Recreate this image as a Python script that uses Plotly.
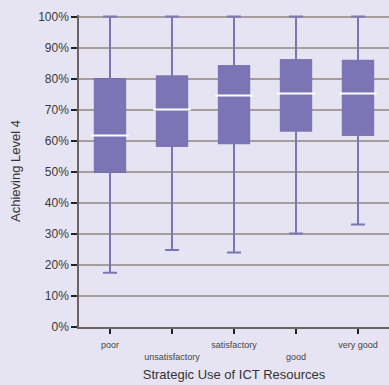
import plotly.graph_objects as go

categories = ["poor", "unsatisfactory", "satisfactory", "good", "very good"]
tick_labels_upper = ["poor", "", "satisfactory", "", "very good"]
tick_labels_lower = ["", "unsatisfactory", "", "good", ""]
lower = [0.175, 0.248, 0.240, 0.301, 0.330]
q1 = [0.500, 0.584, 0.592, 0.633, 0.619]
median = [0.617, 0.701, 0.746, 0.752, 0.752]
q3 = [0.798, 0.807, 0.840, 0.859, 0.858]
upper = [1.0, 1.0, 1.0, 1.0, 1.0]

PURPLE = "#7B75B5"
BG = "#E6E4F2"

fig = go.Figure()
fig.add_trace(go.Box(
    x=categories, q1=q1, median=median, q3=q3,
    lowerfence=lower, upperfence=upper,
    fillcolor=PURPLE, line=dict(color=PURPLE, width=2),
    width=0.49, whiskerwidth=0.46, boxpoints=False, hoverinfo="skip",
))
fig.add_trace(go.Bar(
    x=categories, y=[b - a for a, b in zip(q1, q3)], base=q1,
    width=0.49, marker=dict(color=PURPLE, line=dict(color="#2B2838", width=1.5)),
    hoverinfo="skip",
))
fig.add_trace(go.Scatter(
    x=categories, y=median, mode="markers",
    marker=dict(symbol="line-ew-open", size=27, color="white", line=dict(color="white", width=2)),
    hoverinfo="skip",
))
# invisible trace to carry the second (lower-row) category axis
fig.add_trace(go.Scatter(
    x=categories, y=median, xaxis="x2", mode="markers",
    marker=dict(opacity=0), hoverinfo="skip",
))

fig.update_layout(
    width=389, height=385,
    margin=dict(l=79, r=0, t=15, b=58),
    paper_bgcolor=BG, plot_bgcolor=BG,
    showlegend=False, barmode="overlay", boxmode="overlay",
    font=dict(family="Liberation Sans, Arial, sans-serif", color="#3A3A3A"),
    xaxis=dict(
        type="category", range=[-0.5, 4.5], automargin=False,
        categoryorder="array", categoryarray=categories,
        tickmode="array", tickvals=categories, ticktext=tick_labels_upper,
        tickfont=dict(size=9, color="#444"), ticklabelstandoff=3,
        ticks="outside", ticklen=5, tickwidth=2, tickcolor="#222",
        showline=True, linecolor="#6E6464", linewidth=1.5,
        showgrid=False,
        title=dict(text="Strategic Use of ICT Resources", font=dict(size=13, color="#333"), standoff=21),
    ),
    xaxis2=dict(
        type="category", range=[-0.5, 4.5], automargin=False,
        overlaying="x", anchor="y", side="bottom",
        categoryorder="array", categoryarray=categories,
        tickmode="array", tickvals=categories, ticktext=tick_labels_lower,
        tickfont=dict(size=9, color="#444"), ticklabelstandoff=23,
        ticks="", showline=False, showgrid=False, zeroline=False,
    ),
    yaxis=dict(
        range=[0, 1.005], dtick=0.1, tickformat=".0%", automargin=False,
        tickfont=dict(size=12, color="#3A3A3A"),
        ticks="outside", ticklen=6, tickwidth=2, tickcolor="#222",
        showline=True, linecolor="#6E6464", linewidth=1.5,
        showgrid=True, gridcolor="#A89D9D", gridwidth=1.5,
        zeroline=False,
        title=dict(text="Achieving Level 4", font=dict(size=13, color="#333")),
    ),
)

fig.write_html("out.html", config={"displayModeBar": False},
               post_script="document.body.style.margin='0';")
